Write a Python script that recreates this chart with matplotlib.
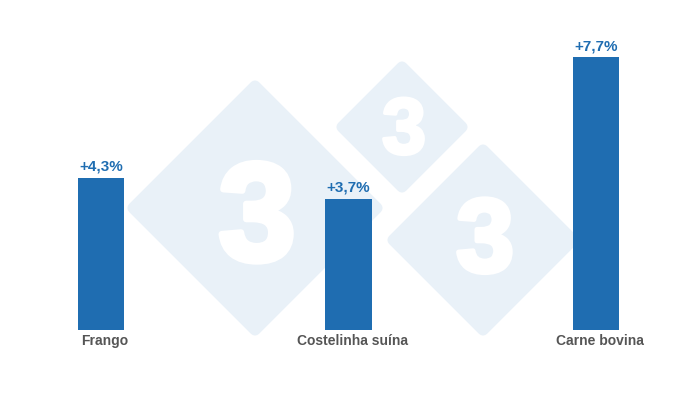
import matplotlib.pyplot as plt
import matplotlib.patheffects as pe
from matplotlib.patches import Polygon

categories = ['Frango', 'Costelinha suína', 'Carne bovina']
values = [4.3, 3.7, 7.7]
value_labels = ['+4,3%', '+3,7%', '+7,7%']

bar_color = '#1f6db1'
label_color = '#555555'
mark_color = '#e9f1f8'

plt.rcParams['font.family'] = ['Liberation Sans', 'DejaVu Sans']

fig = plt.figure(figsize=(7, 4), dpi=100)

# watermark layer, pixel coordinates
bg = fig.add_axes([0, 0, 1, 1])
bg.set_xlim(0, 700)
bg.set_ylim(400, 0)
bg.axis('off')
for cx, cy, r, fs, dy, sw in [(255, 208, 122, 100, 16, 4.5), (402, 127, 60, 57, 6, 2.5),
                              (483, 240, 90, 75, 5, 3.5)]:
    pts = [(cx, cy - r), (cx + r, cy), (cx, cy + r), (cx - r, cy)]
    bg.add_patch(Polygon(pts, closed=True, facecolor=mark_color, edgecolor=mark_color,
                         linewidth=8, joinstyle='round'))
    bg.text(cx + 2, cy + dy, '3', color='white', fontsize=fs, fontweight='bold',
            ha='center', va='center',
            path_effects=[pe.withStroke(linewidth=sw, foreground='white')])

ax = fig.add_axes([0, 0, 1, 1])
ax.patch.set_alpha(0)
x = range(len(categories))
ax.bar(x, values, width=0.186, color=bar_color)
for i, (v, t) in enumerate(zip(values, value_labels)):
    ax.text(i, v + 0.12, t, ha='center', va='bottom', color=bar_color,
            fontsize=11, fontweight='bold')
    ax.text(i + 0.015, -0.12, categories[i], ha='center', va='top', color=label_color,
            fontsize=10, fontweight='bold')

ax.set_xlim(-101 / 247.5, 599 / 247.5)
ax.set_ylim(-70 / 35.4, 330 / 35.4)
ax.axis('off')

fig.savefig('out.png', dpi=100)
